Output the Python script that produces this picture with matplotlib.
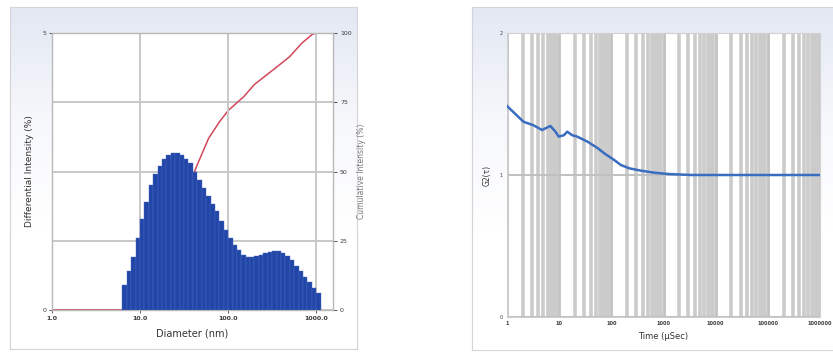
import matplotlib
matplotlib.use("Agg")
import matplotlib.pyplot as plt
import numpy as np

# size distribution (differential intensity, %) per diameter bin (nm)
diameters = [6.68, 7.50, 8.41, 9.44, 10.6, 11.9, 13.3, 15.0, 16.8, 18.8,
             21.1, 23.7, 26.6, 29.9, 33.5, 37.6, 42.2, 47.3, 53.1, 59.6,
             66.8, 75.0, 84.1, 94.4, 106, 119, 133, 150, 168, 188,
             211, 237, 266, 299, 335, 376, 422, 473, 531, 596,
             668, 750, 841, 944, 1059]
diff_intensity = [0.45, 0.70, 0.95, 1.30, 1.65, 1.95, 2.25, 2.45, 2.60, 2.72,
                  2.80, 2.84, 2.84, 2.80, 2.72, 2.65, 2.50, 2.35, 2.20, 2.05,
                  1.92, 1.78, 1.60, 1.45, 1.30, 1.18, 1.08, 1.00, 0.95, 0.95,
                  0.98, 1.00, 1.03, 1.05, 1.07, 1.07, 1.03, 0.98, 0.90, 0.80,
                  0.70, 0.60, 0.50, 0.40, 0.30]

# cumulative intensity (%)
cum_d = [1.0, 6.3, 7.5, 10, 15, 20, 27, 35, 44, 60, 80, 100, 150, 200, 277,
         400, 500, 690, 900, 1000, 1550]
cum_pct = [0, 0, 1, 5, 15, 24, 35, 44, 52, 62, 68, 72, 77, 81.5, 85,
           89, 91.5, 96.4, 99.5, 100, 100]

# correlation function
tau_us = [1.0, 1.54, 2.07, 3.23, 4.69, 6.79, 8.48, 9.82, 12.3, 14.3, 17.8,
          22.3, 34.8, 54.3, 73, 114, 153, 222, 375, 675, 1230, 3460,
          10000, 100000, 1000000]
g2 = [1.486, 1.42, 1.375, 1.35, 1.317, 1.345, 1.305, 1.27, 1.28, 1.305, 1.28,
      1.27, 1.235, 1.19, 1.153, 1.105, 1.07, 1.047, 1.03, 1.016, 1.007, 1.0,
      1.0, 1.0, 1.0]

size_ticks = [1.0, 10.0, 100.0, 1000.0]
time_ticks = [1, 10, 100, 1000, 10000, 100000, 1000000]

W, H = 833, 362
fig = plt.figure(figsize=(W / 100, H / 100), dpi=100)
fig.patch.set_facecolor("white")


def px_box(x0, y0, x1, y1):
    return [x0 / W, 1 - y1 / H, (x1 - x0) / W, (y1 - y0) / H]


def panel(x0, y0, x1, y1):
    bg = fig.add_axes(px_box(x0, y0, x1, y1), zorder=-5)
    grad = np.linspace(0, 1, 100).reshape(-1, 1)
    bg.imshow(grad, cmap=matplotlib.colors.LinearSegmentedColormap.from_list(
        "g", ["#e3e8f3", "#f7f8fc", "#ffffff", "#ffffff"]),
        aspect="auto", extent=[0, 1, 0, 1])
    bg.set_xticks([])
    bg.set_yticks([])
    for s in bg.spines.values():
        s.set_color("#d4d4d8")
        s.set_linewidth(0.8)


panel(10, 7, 357, 349)
panel(472, 7, 840, 350)

grid_c = "#c8c8c8"
tick_c = "#3a3a3a"

# left: size distribution
ax = fig.add_axes(px_box(52, 33, 333, 310))
widths = [d * (10 ** 0.025 - 10 ** -0.025) for d in diameters]
ax.bar(diameters, diff_intensity, width=widths, color="#2146a8",
       edgecolor="#4a6cc4", linewidth=0.3, zorder=3)
ax.set_xscale("log")
ax.set_xlim(1.0, 1550)
ax.set_ylim(0, 5)
ax.set_yticks([0, 5])
ax.set_yticklabels(["0", "5"])
ax.set_xticks(size_ticks)
ax.set_xticklabels([f"{t:.1f}" for t in size_ticks], fontweight="bold")
ax.xaxis.set_minor_locator(matplotlib.ticker.NullLocator())
ax.tick_params(labelsize=4.5, colors=tick_c, length=2, width=0.6, pad=2)
ax.grid(True, axis="x", color=grid_c, linewidth=1.4, zorder=0)
ax.set_xlabel("Diameter (nm)", fontsize=7, color="#333333", labelpad=6)
ax.set_ylabel("Differential Intensity (%)", fontsize=6.5, color="#333333", labelpad=6)
for s in ax.spines.values():
    s.set_color("#b8b8b8")
    s.set_linewidth(1.0)

ax2 = ax.twinx()
ax2.plot(cum_d, cum_pct, color="#d0485a", linewidth=1.1, zorder=2)
ax2.set_ylim(0, 100)
ax2.set_yticks([0, 25, 50, 75, 100])
ax2.tick_params(labelsize=4.5, colors=tick_c, length=3, width=0.6, pad=2)
ax2.grid(True, axis="y", color=grid_c, linewidth=1.4)
ax2.set_ylabel("Cumulative Intensity (%)", fontsize=5.5, color="#777777", labelpad=4)
for s in ax2.spines.values():
    s.set_visible(False)
# keep bars above the cumulative curve
ax.set_zorder(ax2.get_zorder() + 1)
ax.patch.set_visible(False)
ax2.patch.set_facecolor("white")
ax2.patch.set_visible(True)

# right: correlation function
bx = fig.add_axes(px_box(507, 33, 820, 317))
bx.plot(tau_us, g2, color="#3a6cc0", linewidth=1.8, zorder=3)
bx.set_xscale("log")
bx.set_xlim(1, 1000000)
bx.set_ylim(0, 2)
bx.set_yticks([0, 1, 2])
bx.set_xticks(time_ticks)
bx.set_xticklabels([str(t) for t in time_ticks], fontweight="bold")
bx.xaxis.set_minor_locator(matplotlib.ticker.LogLocator(base=10, subs=range(2, 10)))
bx.xaxis.set_minor_formatter(matplotlib.ticker.NullFormatter())
bx.tick_params(which="both", labelsize=3.6, colors=tick_c, length=0, pad=3)
bx.grid(True, which="minor", axis="x", color="#cbcbcb", linewidth=2.6, zorder=0)
bx.grid(True, which="major", axis="x", color="#c2c2c2", linewidth=2.0, zorder=0)
bx.grid(True, axis="y", color="#c0c0c0", linewidth=1.4, zorder=0)
bx.set_xlabel("Time (µSec)", fontsize=6, color="#333333", labelpad=4)
bx.set_ylabel("G2(τ)", fontsize=5.5, color="#333333", labelpad=6)
for s in bx.spines.values():
    s.set_color("#d0d0d0")
    s.set_linewidth(0.8)

fig.savefig("out.png", dpi=100)
